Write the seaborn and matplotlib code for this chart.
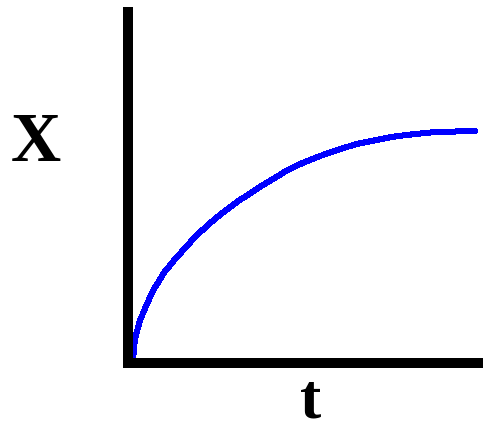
import numpy as np
import pandas as pd
import seaborn as sns
import matplotlib.pyplot as plt

# values (arbitrary units, origin at the axes corner)
t_vals = [0, 2, 7, 12, 17, 22, 27, 32, 42, 52, 62, 77, 92, 107, 127, 142,
          157, 172, 187, 207, 227, 247, 262, 277, 307, 347]
x_vals = [2, 24, 42, 54, 65, 75, 83, 91, 103, 114, 125, 139, 151, 162, 175, 184,
          193, 200, 206, 213, 219, 223, 226, 228, 231, 232]
x_label = "X"
t_label = "t"

df = pd.DataFrame({"t": t_vals, "X": x_vals})

sns.set_style("white")
fig = plt.figure(figsize=(4.83, 4.31), dpi=100)
W, H = 483, 431
# axes box in pixels: spine centres at x=128 and y=364, top at 13
ax = fig.add_axes([128 / W, (H - 364) / H, (W - 128) / W, (364 - 13) / H])

sns.lineplot(data=df, x="t", y="X", ax=ax, color="#0000ff", linewidth=3.6,
             antialiased=False)

ax.set_xlim(-5, 355)
ax.set_ylim(0, 351)
ax.set_xticks([])
ax.set_yticks([])
ax.set_xlabel("")
ax.set_ylabel("")
for side in ["top", "right"]:
    ax.spines[side].set_visible(False)
for side in ["left", "bottom"]:
    ax.spines[side].set_linewidth(7.2)
    ax.spines[side].set_color("black")
    ax.spines[side].set_capstyle("projecting")

fig.text(36 / W, 1 - 144 / H, x_label, ha="center", va="center", color="black",
         fontsize=50, fontweight="bold", family="Liberation Serif")
fig.text(311 / W, 1 - 418 / H, t_label, ha="center", va="baseline", color="black",
         fontsize=46, fontweight="bold", family="Liberation Serif")

fig.savefig("out.png", dpi=100, facecolor="white")
